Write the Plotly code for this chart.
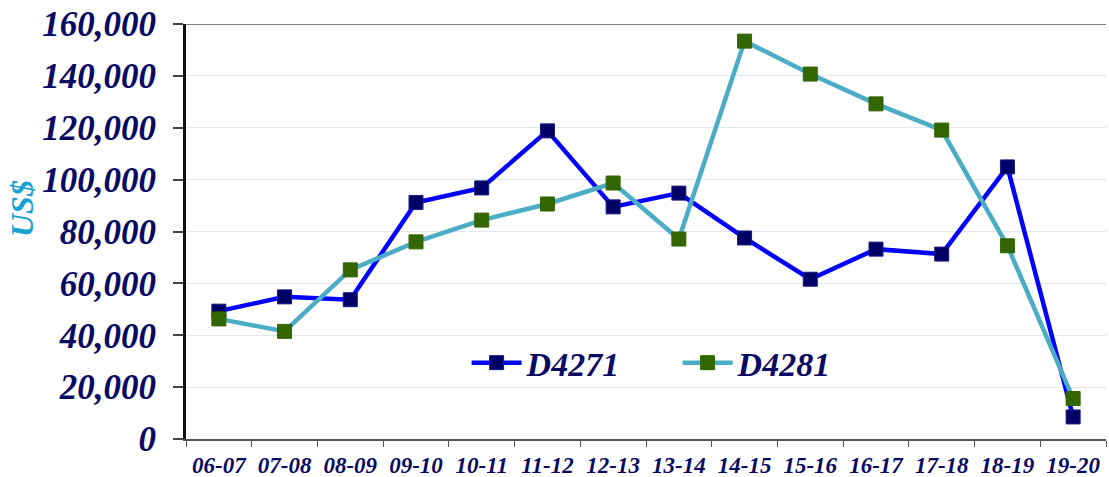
import plotly.graph_objects as go

categories = ["06-07", "07-08", "08-09", "09-10", "10-11", "11-12", "12-13",
              "13-14", "14-15", "15-16", "16-17", "17-18", "18-19", "19-20"]
d4271 = [49300, 54800, 53700, 91200, 96800, 118800, 89500,
         94800, 77500, 61600, 73200, 71300, 104900, 8500]
d4281 = [46300, 41500, 65200, 76000, 84400, 90600, 98700,
         77100, 153400, 140700, 129200, 119100, 74500, 15600]
y_ticks = [0, 20000, 40000, 60000, 80000, 100000, 120000, 140000, 160000]
y_tick_labels = ["0", "20,000", "40,000", "60,000", "80,000", "100,000",
                 "120,000", "140,000", "160,000"]

FONT = "Liberation Serif"
NAVY = "#0A0A64"

fig = go.Figure()
fig.add_trace(go.Scatter(
    x=categories, y=d4271, name="D4271", mode="lines+markers",
    line=dict(color="#0000FF", width=4.5),
    marker=dict(symbol="square", size=14, color="#000066",
                line=dict(color="#1a1a80", width=1)),
))
fig.add_trace(go.Scatter(
    x=categories, y=d4281, name="D4281", mode="lines+markers",
    line=dict(color="#4BACC6", width=4.5),
    marker=dict(symbol="square", size=14, color="#336600",
                line=dict(color="#336600", width=1)),
))

fig.update_layout(
    width=1109, height=477,
    margin=dict(l=186, r=3, t=24, b=38, autoexpand=False),
    paper_bgcolor="white", plot_bgcolor="white",
    font=dict(family=FONT, color=NAVY),
    showlegend=True,
    legend=dict(orientation="h", x=0.305, y=0.183, xanchor="left", yanchor="middle",
                font=dict(family=FONT, size=34, color=NAVY, weight="bold", style="italic"),
                bgcolor="rgba(0,0,0,0)", entrywidth=146, entrywidthmode="pixels",
                itemwidth=50),
    xaxis=dict(
        type="category", range=[-0.5, 13.5], automargin=False,
        tickson="boundaries", ticks="outside", ticklen=6, tickcolor="#555555", tickwidth=1,
        showline=True, linecolor="#555555", linewidth=1.5,
        showgrid=False,
        tickfont=dict(family=FONT, size=23, color=NAVY, weight="bold", style="italic"),
        ticklabelstandoff=5,
    ),
    yaxis=dict(
        range=[0, 160000], tickvals=y_ticks, ticktext=y_tick_labels, automargin=False,
        ticks="outside", ticklen=10, tickcolor="#444444", tickwidth=1.5,
        showline=True, linecolor="#111111", linewidth=3,
        showgrid=True, gridcolor="#E2E8F1", gridwidth=1.2,
        zeroline=False,
        tickfont=dict(family=FONT, size=35, color=NAVY, weight="bold", style="italic"),
        ticklabelstandoff=10,
    ),
    shapes=[dict(type="line", xref="paper", yref="y", x0=0, x1=1, y0=160000, y1=160000,
                 line=dict(color="#808080", width=2))],
    annotations=[dict(text="US$", xref="paper", yref="paper",
                      x=(22 - 186) / 920, y=(439 - 209) / 415, textangle=-90,
                      showarrow=False, xanchor="center", yanchor="middle",
                      font=dict(family=FONT, size=32, color="#1AA3D1",
                                weight="bold", style="italic"))],
)

fig.write_html("out.html", config={"displayModeBar": False},
               post_script="document.body.style.margin='0';document.body.style.overflow='hidden';")
